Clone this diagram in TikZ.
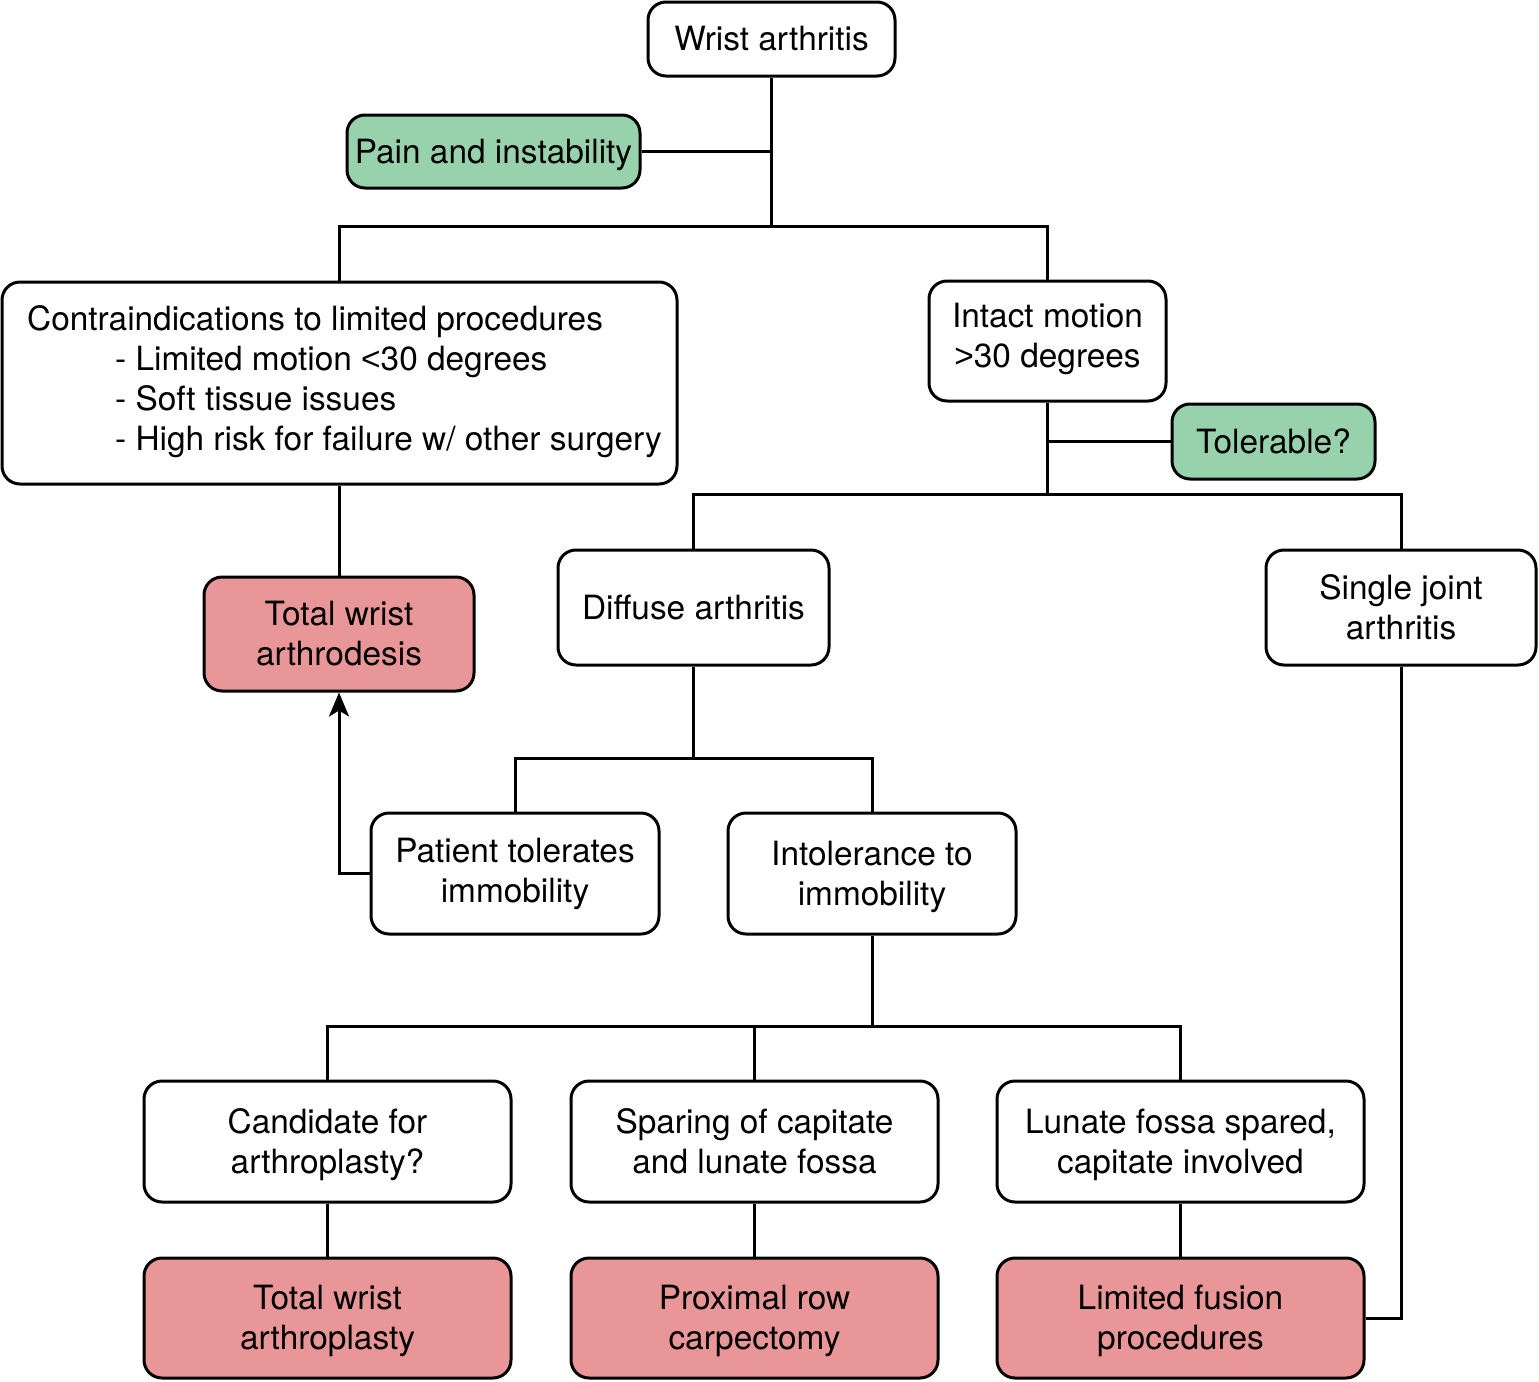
\documentclass[tikz,border=0pt]{standalone}
\usepackage{fontspec}
\setmainfont{TeX Gyre Heros}
\newfontfamily\libfont{Liberation Sans}
\usetikzlibrary{arrows.meta}
\definecolor{gfill}{RGB}{152,210,172}
\definecolor{rfill}{RGB}{232,150,152}
\newcommand{\tstr}{\rule{0pt}{15.8pt}}
\newcommand{\bstr}{\rule[-4.2pt]{0pt}{4.2pt}}
\newcommand{\tl}[1]{\tstr#1\bstr}
\begin{document}
\begin{tikzpicture}[x=0.5pt,y=-0.5pt,
  box/.style={draw=black,line width=1.5pt,rounded corners=9pt,fill=white,inner sep=0pt,align=center,
    font=\fontsize{16.7pt}{20pt}\selectfont},
  gbox/.style={box,fill=gfill},
  rbox/.style={box,fill=rfill},
  conn/.style={line width=1.5pt},
  every node/.append style={text=black}]
\useasboundingbox (0,0) rectangle (1539,1382);
\fill[white] (0,0) rectangle (1539,1382);

\node[box,minimum width=123.5pt,minimum height=37pt] (wa) at (771.5,39) {\tl{Wrist arthritis}};
\node[gbox,minimum width=146.5pt,minimum height=36.5pt] (pain) at (493.5,151.5) {\tl{Pain and instability}};
\node[box,minimum width=337.5pt,minimum height=101pt,align=left] (contra) at (339.5,383)
  {\tstr\hspace{5pt}Contraindications to limited procedures\\
   \hspace{49pt}- Limited motion {\libfont<}30 degrees\\
   \hspace{49pt}- Soft tissue issues\\
   \hspace{49pt}- High risk for failure w/ other surgery\rule[-8.2pt]{0pt}{8.2pt}};
\node[box,minimum width=118.5pt,minimum height=60pt] (intact) at (1047.5,341) {\tstr Intact motion\\{\libfont>}30 degrees\rule[-9.2pt]{0pt}{9.2pt}};
\node[gbox,minimum width=101.5pt,minimum height=37.5pt] (tol) at (1273.5,441.5) {\tl{Tolerable?}};
\node[rbox,minimum width=135pt,minimum height=57pt] (tarthro) at (339,634) {\tl{Total wrist\\arthrodesis}};
\node[box,minimum width=135.5pt,minimum height=57.5pt] (diffuse) at (693.5,607.5) {\tl{Diffuse arthritis}};
\node[box,minimum width=135pt,minimum height=57.5pt] (single) at (1401,607.5) {\tl{Single joint\\arthritis}};
\node[box,minimum width=144pt,minimum height=60.5pt] (patient) at (515,873.5) {\tstr Patient tolerates\\immobility\rule[-7.2pt]{0pt}{7.2pt}};
\node[box,minimum width=144pt,minimum height=60.5pt] (intol) at (872,873.5) {\tl{Intolerance to\\immobility}};
\node[box,minimum width=183.5pt,minimum height=60.5pt] (cand) at (327.5,1141.5) {\tl{Candidate for\\arthroplasty?}};
\node[box,minimum width=183.5pt,minimum height=60.5pt] (spar) at (754.5,1141.5) {\tl{Sparing of capitate\\and lunate fossa}};
\node[box,minimum width=183.5pt,minimum height=60.5pt] (lun) at (1180.5,1141.5) {\tl{Lunate fossa spared,\\capitate involved}};
\node[rbox,minimum width=183.5pt,minimum height=60pt] (tplasty) at (327.5,1318) {\tl{Total wrist\\arthroplasty}};
\node[rbox,minimum width=183.5pt,minimum height=60pt] (prox) at (754.5,1318) {\tl{Proximal row\\carpectomy}};
\node[rbox,minimum width=183.5pt,minimum height=60pt] (lim) at (1180.5,1318) {\tl{Limited fusion\\procedures}};

\coordinate (b1) at (771.5,226);
\coordinate (b2) at (1047.5,494);
\coordinate (b3) at (693.5,758);
\coordinate (b4) at (872,1026);

\draw[conn] (wa.south) -- (b1);
\draw[conn] (pain.east) -- (pain.east -| wa.south);
\draw[conn] (contra.north) |- (b1) -| (intact.north);
\draw[conn] (contra.south) -- (contra.south |- tarthro.north);
\draw[conn] (intact.south) -- (b2);
\draw[conn] (tol.west) -- (tol.west -| intact.south);
\draw[conn] (diffuse.north) |- (b2) -| (single.north);
\draw[conn] (diffuse.south) -- (b3);
\draw[conn] (patient.north) |- (b3) -| (intol.north);
\draw[conn,-{Stealth[length=12pt,width=10pt,inset=3pt]}] (patient.west) -| (tarthro.south);
\draw[conn] (intol.south) -- (b4);
\draw[conn] (cand.north) |- (b4) -| (lun.north);
\draw[conn] (spar.north) -- (spar.north |- b4);
\draw[conn] (cand.south) -- (tplasty.north);
\draw[conn] (spar.south) -- (prox.north);
\draw[conn] (lun.south) -- (lim.north);
\draw[conn] (single.south) |- (lim.east);
\end{tikzpicture}
\end{document}
